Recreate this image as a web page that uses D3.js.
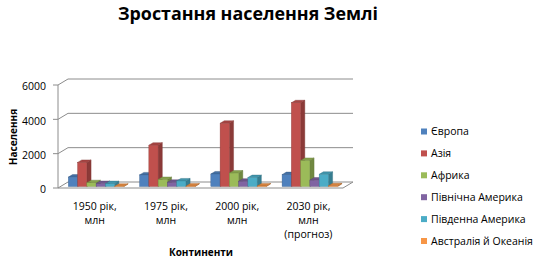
<!DOCTYPE html>
<html><head><meta charset="utf-8">
<script src="https://cdn.jsdelivr.net/npm/d3@7"></script>
<style>
html,body{margin:0;padding:0;background:#fff;}
svg{display:block;font-family:"Open Sans",sans-serif;}
</style></head>
<body><svg id="c" width="537" height="260"></svg>
<script>
const title = "Зростання населення Землі";
const yTitle = "Населення";
const xTitle = "Континенти";
const categories = [["1950 рік,","млн"],["1975 рік,","млн"],["2000 рік,","млн"],["2030 рік,","млн","(прогноз)"]];
const seriesNames = ["Європа","Азія","Африка","Північна Америка","Південна Америка","Австралія й Океанія"];
const europe   = [547, 676, 729, 691];
const asia     = [1402, 2406, 3683, 4877];
const africa   = [221, 406, 784, 1518];
const northAm  = [172, 243, 310, 372];
const southAm  = [167, 322, 519, 709];
const oceania  = [13, 21, 30, 40];
const yTicks = [0, 2000, 4000, 6000];
const colors = ["#4F81BD","#C0504D","#9BBB59","#8064A2","#4BACC6","#F79646"];

const seriesValues = [europe, asia, africa, northAm, southAm, oceania];
const svg = d3.select("#c");

// geometry
const X0 = 58, X1 = 343, DX = 10, DY = -6;
const y = d3.scaleLinear().domain([0, 6000]).range([188, 85]);
const xc = d3.scaleBand().domain(d3.range(categories.length)).range([X0, X1]).paddingInner(0.22).paddingOuter(0.11);
const xs = d3.scaleBand().domain(d3.range(seriesNames.length)).range([0, xc.bandwidth()]);
const gridCol = "#8c8c8c";

// title
svg.append("text").attr("x", 248).attr("y", 20).attr("text-anchor","middle")
  .attr("font-weight","bold").attr("font-size",18).attr("fill","#000")
  .attr("textLength",260).attr("lengthAdjust","spacingAndGlyphs").text(title);

const g = svg.append("g");
// floor
g.append("polygon")
  .attr("points", [[X0,y(0)],[X1,y(0)],[X1+DX,y(0)+DY],[X0+DX,y(0)+DY]].map(p=>p.join(",")).join(" "))
  .attr("fill","#fff").attr("stroke", gridCol).attr("stroke-width",1);
// gridlines on wall
yTicks.forEach(t => {
  if (t > 0) {
    g.append("line").attr("x1",X0+DX).attr("x2",X1+DX).attr("y1",y(t)+DY).attr("y2",y(t)+DY)
      .attr("stroke",gridCol).attr("stroke-width",1);
    g.append("line").attr("x1",X0).attr("x2",X0+DX).attr("y1",y(t)).attr("y2",y(t)+DY)
      .attr("stroke",gridCol).attr("stroke-width",1);
  }
  g.append("line").attr("x1",X0-5).attr("x2",X0).attr("y1",y(t)).attr("y2",y(t))
    .attr("stroke",gridCol).attr("stroke-width",1);
  g.append("text").attr("x",46).attr("y",y(t)+1.5).attr("dy","0.35em").attr("text-anchor","end")
    .attr("font-size",10.5).attr("fill","#000").text(t);
});
g.append("line").attr("x1",X0).attr("x2",X0).attr("y1",y(0)).attr("y2",y(6000))
  .attr("stroke",gridCol).attr("stroke-width",1);

// bars
const f0 = 0.25, fd = 0.42;
const ox = DX*f0, oy = DY*f0, bx = DX*fd, by = DY*fd;
const bars = [];
categories.forEach((c, ci) => {
  seriesNames.forEach((s, si) => {
    bars.push({ci, si, v: seriesValues[si][ci]});
  });
});
bars.forEach(d => {
  const xl = xc(d.ci) + xs(d.si) + ox;
  const w = xs.bandwidth();
  const yt = y(d.v) + oy, yb = y(0) + oy;
  const base = d3.color(colors[d.si]);
  const gb = g.append("g");
  const pts = a => a.map(p=>p.join(",")).join(" ");
  gb.append("polygon").attr("points", pts([[xl+w,yb],[xl+w+bx,yb+by],[xl+w+bx,yt+by],[xl+w,yt]]))
    .attr("fill", base.darker(0.9)).attr("stroke", base.darker(1.2)).attr("stroke-width",0.4);
  gb.append("polygon").attr("points", pts([[xl,yt],[xl+w,yt],[xl+w+bx,yt+by],[xl+bx,yt+by]]))
    .attr("fill", base.darker(0.4)).attr("stroke", base.darker(1.2)).attr("stroke-width",0.4);
  gb.append("rect").attr("x", xl).attr("y", yt).attr("width", w).attr("height", Math.max(0, yb-yt))
    .attr("fill", base).attr("stroke", base.darker(0.8)).attr("stroke-width",0.4);
});

// category labels
categories.forEach((lines, ci) => {
  const cx = xc(ci) + xc.bandwidth()/2 + 1;
  lines.forEach((ln, li) => {
    svg.append("text").attr("x", cx).attr("y", 210 + li*14).attr("text-anchor","middle")
      .attr("font-size",10.5).attr("fill","#000").text(ln);
  });
});

// axis titles
svg.append("text").attr("transform","translate(17,137) rotate(-90)").attr("text-anchor","middle")
  .attr("font-weight","bold").attr("font-size",10).attr("fill","#000").text(yTitle);
svg.append("text").attr("x",201).attr("y",256).attr("text-anchor","middle")
  .attr("font-weight","bold").attr("font-size",10).attr("fill","#000").text(xTitle);

// legend
const lg = svg.append("g");
seriesNames.forEach((s, i) => {
  const cy = 131.5 + i*21.9;
  lg.append("rect").attr("x",421).attr("y",cy-3).attr("width",6).attr("height",6).attr("fill",colors[i]);
  lg.append("text").attr("x",431).attr("y",cy).attr("dy","0.35em").attr("font-size",10.5)
    .attr("fill","#000").text(s);
});
</script></body></html>
